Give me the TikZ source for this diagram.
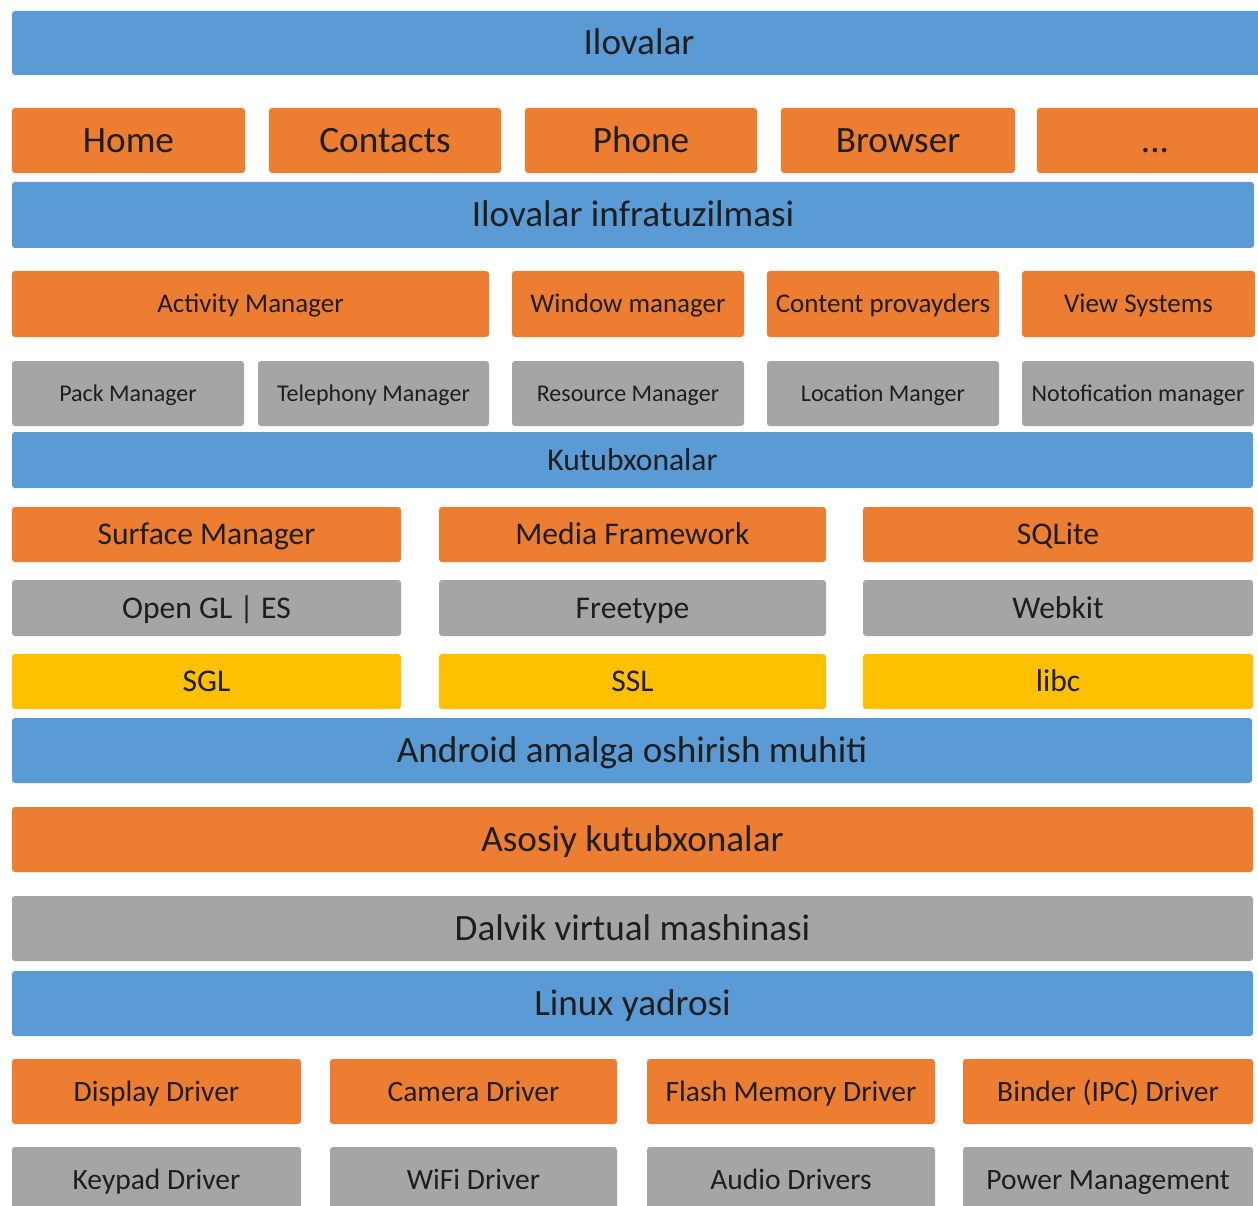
\documentclass[tikz,border=0pt]{standalone}
\usepackage{fontspec}
\setmainfont{Carlito}
\definecolor{cblue}{HTML}{5B9BD5}
\definecolor{corange}{HTML}{ED7D31}
\definecolor{cgray}{HTML}{A5A5A5}
\definecolor{cyellow}{HTML}{FFC000}
\definecolor{ctext}{HTML}{1E1E1E}
\newcommand\blk[7]{\node[#1, minimum width={#4-#3}, minimum height={#6-#5}] (#2) at ({(#3+#4)/2},{-(#5+#6)/2}) {#7};}
\tikzset{
  base/.style={rectangle, rounded corners=3pt, inner sep=0pt, outer sep=0pt, text=ctext, text depth=0pt},
  bluebox/.style={base, fill=cblue},
  orangebox/.style={base, fill=corange},
  graybox/.style={base, fill=cgray},
  yellowbox/.style={base, fill=cyellow},
  fA/.style={font=\fontsize{37.2}{42}\selectfont, text height=24pt},
  fB/.style={font=\fontsize{31.6}{36}\selectfont, text height=20.3pt},
  fC/.style={font=\fontsize{27}{32}\selectfont, text height=17.4pt},
  fD/.style={font=\fontsize{24}{28}\selectfont, text height=15.5pt},
  fE/.style={font=\fontsize{29.5}{34}\selectfont, text height=19pt},
}
\begin{document}
\begin{tikzpicture}[x=1pt,y=1pt]
\useasboundingbox[fill=white] (0,0) rectangle (1258,-1206);
% Row 1
\blk{bluebox,fA}{ilovalar}{12}{1266}{11}{75}{Ilovalar}
% Row 2
\blk{orangebox,fA}{home}{12}{245}{108}{173}{Home}
\blk{orangebox,fA}{contacts}{269}{501}{108}{173}{Contacts}
\blk{orangebox,fA}{phone}{525}{757}{108}{173}{Phone}
\blk{orangebox,fA}{browser}{781}{1015}{108}{173}{Browser}
\node[orangebox, minimum width=240, minimum height=65] (more) at (1157,-140.5) {};
\node[fA, text=ctext, inner sep=0pt, text depth=0pt] (moretext) at (1155,-140.5) {...};
% Row 3
\blk{bluebox,fA}{infra}{12}{1254}{182}{248}{Ilovalar infratuzilmasi}
% Row 4
\blk{orangebox,fC}{activity}{12}{489}{271}{337}{Activity Manager}
\blk{orangebox,fC}{window}{512}{744}{271}{337}{Window manager}
\blk{orangebox,fC}{content}{767}{999}{271}{337}{Content provayders}
\blk{orangebox,fC}{view}{1022}{1255}{271}{337}{View Systems}
% Row 5
\blk{graybox,fD}{pack}{12}{244}{361}{426}{Pack Manager}
\blk{graybox,fD}{tele}{258}{489}{361}{426}{Telephony Manager}
\blk{graybox,fD}{resource}{512}{744}{361}{426}{Resource Manager}
\blk{graybox,fD}{location}{767}{999}{361}{426}{Location Manger}
\blk{graybox,fD}{notif}{1022}{1254}{361}{426}{Notofication manager}
% Row 6
\blk{bluebox,fB}{kutub}{12}{1253}{432}{488}{Kutubxonalar}
% Row 7
\blk{orangebox,fB}{surface}{12}{401}{507}{562}{Surface Manager}
\blk{orangebox,fB}{media}{439}{826}{507}{562}{Media Framework}
\blk{orangebox,fB}{sqlite}{863}{1253}{507}{562}{SQLite}
% Row 8
\blk{graybox,fB}{opengl}{12}{401}{580}{636}{Open GL | ES}
\blk{graybox,fB}{freetype}{439}{826}{580}{636}{Freetype}
\blk{graybox,fB}{webkit}{863}{1253}{580}{636}{Webkit}
% Row 9
\blk{yellowbox,fB}{sgl}{12}{401}{654}{709}{SGL}
\blk{yellowbox,fB}{ssl}{439}{826}{654}{709}{SSL}
\blk{yellowbox,fB}{libc}{863}{1253}{654}{709}{libc}
% Rows 10-13
\blk{bluebox,fA}{android}{12}{1252}{718}{783}{Android amalga oshirish muhiti}
\blk{orangebox,fA}{asosiy}{12}{1253}{807}{872}{Asosiy kutubxonalar}
\blk{graybox,fA}{dalvik}{12}{1253}{896}{961}{Dalvik virtual mashinasi}
\blk{bluebox,fA}{linux}{12}{1253}{971}{1036}{Linux yadrosi}
% Row 14
\blk{orangebox,fE}{display}{12}{301}{1059}{1124}{Display Driver}
\blk{orangebox,fE}{camera}{330}{617}{1059}{1124}{Camera Driver}
\blk{orangebox,fE}{flash}{647}{935}{1059}{1124}{Flash Memory Driver}
\blk{orangebox,fE}{binder}{963}{1253}{1059}{1124}{Binder (IPC) Driver}
% Row 15
\blk{graybox,fE}{keypad}{12}{301}{1147}{1212}{Keypad Driver}
\blk{graybox,fE}{wifi}{330}{617}{1147}{1212}{WiFi Driver}
\blk{graybox,fE}{audio}{647}{935}{1147}{1212}{Audio Drivers}
\blk{graybox,fE}{power}{963}{1253}{1147}{1212}{Power Management}
\end{tikzpicture}
\end{document}
